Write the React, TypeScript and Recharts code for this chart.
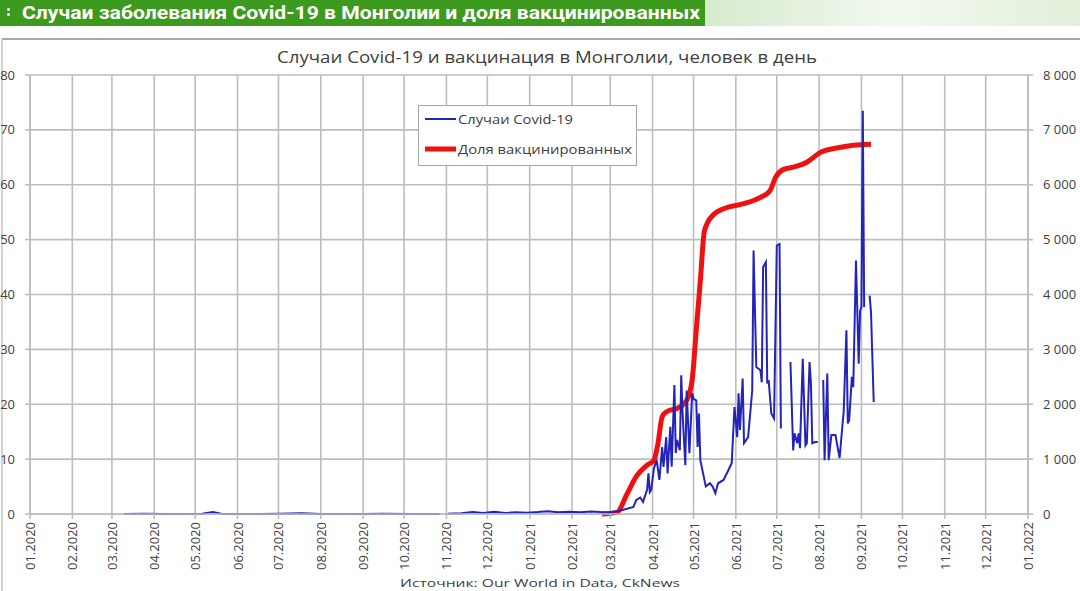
import { LineChart, Line, XAxis, YAxis, CartesianGrid } from "recharts";

// Daily Covid-19 cases in Mongolia (right axis) and vaccinated share, % (left axis)
const caseDates = [
  "2020-03-10", "2020-03-24", "2020-04-08", "2020-04-22", "2020-05-06", "2020-05-14", "2020-05-20",
  "2020-06-04", "2020-06-18", "2020-07-02", "2020-07-18", "2020-08-01", "2020-08-16", "2020-09-01",
  "2020-09-16", "2020-10-06", "2020-10-27", "2020-10-30", "2020-11-02", "2020-11-12", "2020-11-20",
  "2020-11-28", "2020-12-06", "2020-12-14", "2020-12-22", "2020-12-30", "2021-01-07", "2021-01-14",
  "2021-01-22", "2021-01-30", "2021-02-07", "2021-02-15", "2021-02-22", "2021-03-01", "2021-03-08",
  "2021-03-18", "2021-03-20", "2021-03-23", "2021-03-25", "2021-03-28", "2021-03-29", "2021-03-30",
  "2021-03-31", "2021-04-02", "2021-04-04", "2021-04-06", "2021-04-08", "2021-04-09", "2021-04-11",
  "2021-04-12", "2021-04-14", "2021-04-15", "2021-04-17", "2021-04-18", "2021-04-19", "2021-04-21",
  "2021-04-22", "2021-04-23", "2021-04-25", "2021-04-26", "2021-04-28", "2021-04-30", "2021-05-01",
  "2021-05-03", "2021-05-04", "2021-05-05", "2021-05-06", "2021-05-08", "2021-05-10", "2021-05-13",
  "2021-05-15", "2021-05-17", "2021-05-19", "2021-05-23", "2021-05-26", "2021-05-29", "2021-05-31",
  "2021-06-02", "2021-06-03", "2021-06-04", "2021-06-06", "2021-06-07", "2021-06-10", "2021-06-13",
  "2021-06-14", "2021-06-16", "2021-06-19", "2021-06-20", "2021-06-21", "2021-06-23", "2021-06-24",
  "2021-06-25", "2021-06-27", "2021-06-29", "2021-07-01", "2021-07-03", "2021-07-04", "2021-07-08",
  "2021-07-11", "2021-07-13", "2021-07-14", "2021-07-16", "2021-07-17", "2021-07-18", "2021-07-20",
  "2021-07-22", "2021-07-23", "2021-07-25", "2021-07-26", "2021-07-27", "2021-07-29", "2021-07-31",
  "2021-08-02", "2021-08-04", "2021-08-05", "2021-08-07", "2021-08-08", "2021-08-10", "2021-08-13",
  "2021-08-14", "2021-08-16", "2021-08-18", "2021-08-19", "2021-08-21", "2021-08-22", "2021-08-23",
  "2021-08-25", "2021-08-26", "2021-08-28", "2021-08-30", "2021-08-31", "2021-09-01", "2021-09-02",
  "2021-09-03", "2021-09-04", "2021-09-07", "2021-09-08", "2021-09-10",
];
const caseCounts = [
  1, 3, 2, 1, 4, 35, 6,
  2, 1, 3, 12, 1, 2, 1,
  3, 2, 1, null, 5, 15, 35,
  20, 40, 20, 30, 25, 35, 50,
  30, 40, 30, 45, 35, 30, 60,
  130, 250, 300, 220, 440, 740, 400,
  440, 830, 980, 620, 1220, 860, 1400,
  740, 1590, 860, 2350, 1110, 1350, 1160,
  2530, 1830, 890, 2250, 1110, 2200, 2100,
  2070, 1220, 1830, 980, 740, 500, 560,
  500, 380, 560, 620, 770, 930, 1950,
  1400, 2200, 1530, 2470, 1290, 1400, 2250,
  4800, 2680, 2620, 2400, 4500, 4590, 2380,
  2440, 1830, 1740, 4890, 4920, 1560, null,
  2770, 1160, 1470, 1290, 1470, 1200, 2830,
  1250, 1290, 2770, 2380, 1290, 1310, 1310,
  null, 2440, 980, 2560, 980, 1440, 1440,
  1290, 1020, 1590, 1860, 3350, 1650, 1710,
  2500, 2310, 4620, 2740, 3700, 3770, 7350,
  3770, null, 3980, 3680, 2040,
];

const vaccDates = [
  "2021-02-23", "2021-03-06", "2021-03-13", "2021-03-20", "2021-03-28", "2021-04-02", "2021-04-05",
  "2021-04-08", "2021-04-11", "2021-04-21", "2021-04-26", "2021-04-30", "2021-05-03", "2021-05-06",
  "2021-05-09", "2021-05-15", "2021-05-25", "2021-06-06", "2021-06-19", "2021-06-26", "2021-06-30",
  "2021-07-06", "2021-07-13", "2021-07-23", "2021-08-02", "2021-08-14", "2021-08-26", "2021-09-08",
];
const vaccShares = [
  0, 0.3, 3.5, 6.8, 8.9, 9.8, 12.9,
  17.7, 18.6, 19.5, 20.7, 24.4, 33.5, 42.5,
  51.6, 54.4, 55.8, 56.5, 57.7, 58.9, 61.3,
  62.8, 63.2, 64.1, 65.9, 66.7, 67.2, 67.4,
];

const monthLabels = [
  "01.2020", "02.2020", "03.2020", "04.2020", "05.2020", "06.2020", "07.2020", "08.2020", "09.2020",
  "10.2020", "11.2020", "12.2020", "01.2021", "02.2021", "03.2021", "04.2021", "05.2021", "06.2021",
  "07.2021", "08.2021", "09.2021", "10.2021", "11.2021", "12.2021", "01.2022",
];
const shareTicks = [0, 10, 20, 30, 40, 50, 60, 70, 80];
const caseTicks = [0, 1000, 2000, 3000, 4000, 5000, 6000, 7000, 8000];

const ORIGIN = Date.UTC(2020, 0, 1);
const toDay = (s: string) => {
  const [y, m, d] = s.split("-").map(Number);
  return Math.round((Date.UTC(y, m - 1, d) - ORIGIN) / 86400000);
};

const monthTicks = monthLabels.map((l) => {
  const [m, y] = l.split(".");
  return toDay(`${y}-${m}-01`);
});
const labelByDay: Record<number, string> = {};
monthTicks.forEach((d, i) => (labelByDay[d] = monthLabels[i]));

const casesData = caseDates.map((d, i) => ({ day: toDay(d), cases: caseCounts[i] }));
const vaccData = vaccDates.map((d, i) => ({ day: toDay(d), share: vaccShares[i] }));

const FONT = "'Open Sans', sans-serif";
const TXT = "#404040";
const GRID = "#bdbdbd";

const MonthTick = ({ x, y, payload }: any) => (
  <text
    x={x}
    y={y + 1}
    transform={`rotate(-90 ${x} ${y + 1})`}
    textAnchor="end"
    dominantBaseline="central"
    fontFamily={FONT}
    fontSize={13}
    fill={TXT}
  >
    {labelByDay[payload.value]}
  </text>
);

const fmtCases = (v: number) => (v === 0 ? "0" : `${v / 1000} 000`);

export default function App() {
  return (
    <div
      style={{
        position: "fixed",
        left: 0,
        top: 0,
        width: 1080,
        height: 591,
        overflow: "hidden",
        background: "#fff",
      }}
    >
      <svg width={1080} height={591} style={{ position: "absolute", left: 0, top: 0 }}>
        <defs>
          <linearGradient id="fade" x1="0" x2="1" y1="0" y2="0">
            <stop offset="0" stopColor="#d6ebcd" />
            <stop offset="0.5" stopColor="#f2f8ef" />
            <stop offset="1" stopColor="#e2f0db" />
          </linearGradient>
        </defs>
        <rect x={0} y={0} width={705} height={26} fill="#3c9a1e" />
        <rect x={705} y={0} width={375} height={26} fill="url(#fade)" />
        <line x1={2} y1={39} x2={1080} y2={39} stroke="#a8a8a8" strokeWidth={2} />
        <line x1={2} y1={39} x2={2} y2={591} stroke="#c4c4c4" strokeWidth={1.5} />
      </svg>

      <div style={{ position: "absolute", left: 0, top: 0 }}>
        <LineChart
          width={1080}
          height={591}
          margin={{ top: 75, right: 0, bottom: 0, left: 0 }}
        >
          <CartesianGrid yAxisId="left" stroke={GRID} strokeWidth={1.6} />
          <XAxis
            dataKey="day"
            type="number"
            domain={[0, 731]}
            ticks={monthTicks}
            interval={0}
            height={77}
            tickSize={5}
            tickMargin={2}
            tick={<MonthTick />}
            stroke={GRID}
            strokeWidth={1.6}
            allowDataOverflow
          />
          <YAxis
            yAxisId="left"
            domain={[0, 80]}
            ticks={shareTicks}
            width={30}
            tickSize={5}
            tickMargin={10}
            stroke={GRID}
            strokeWidth={1.6}
            tick={{ fill: TXT, fontSize: 13, fontFamily: FONT }}
          />
          <YAxis
            yAxisId="right"
            orientation="right"
            domain={[0, 8000]}
            ticks={caseTicks}
            width={52}
            tickSize={5}
            tickMargin={10}
            stroke={GRID}
            strokeWidth={1.6}
            tickFormatter={fmtCases}
            tick={{ fill: TXT, fontSize: 13, fontFamily: FONT }}
          />
          <Line
            yAxisId="left"
            data={vaccData}
            dataKey="share"
            type="monotone"
            stroke="#ee1111"
            strokeWidth={5}
            dot={false}
            isAnimationActive={false}
          />
          <Line
            yAxisId="right"
            data={casesData}
            dataKey="cases"
            type="linear"
            stroke="#2424b8"
            strokeWidth={2}
            dot={false}
            connectNulls={false}
            isAnimationActive={false}
          />
        </LineChart>
      </div>

      <svg
        width={1080}
        height={591}
        style={{ position: "absolute", left: 0, top: 0, pointerEvents: "none" }}
      >
        <circle cx={8.5} cy={9.5} r={1.4} fill="#fff" />
        <circle cx={8.5} cy={14.5} r={1.4} fill="#fff" />
        <text
          x={22}
          y={19}
          textLength={678}
          lengthAdjust="spacingAndGlyphs"
          fontFamily="Roboto, sans-serif"
          fontWeight={700}
          fontSize={19}
          fill="#fff"
        >
          Случаи заболевания Covid-19 в Монголии и доля вакцинированных
        </text>
        <text
          x={277}
          y={63}
          textLength={540}
          lengthAdjust="spacingAndGlyphs"
          fontFamily={FONT}
          fontSize={17}
          fill={TXT}
        >
          Случаи Covid-19 и вакцинация в Монголии, человек в день
        </text>

        <rect x={418.5} y={105.5} width={218} height={60} fill="#fff" stroke="#a6a6a6" strokeWidth={1} />
        <line x1={425} y1={119} x2={456} y2={119} stroke="#2424b8" strokeWidth={2} />
        <text
          x={458}
          y={124}
          textLength={115}
          lengthAdjust="spacingAndGlyphs"
          fontFamily={FONT}
          fontSize={13.5}
          fill={TXT}
        >
          Случаи Covid-19
        </text>
        <line x1={425} y1={149} x2={456} y2={149} stroke="#ee1111" strokeWidth={5} />
        <text
          x={458}
          y={154}
          textLength={174}
          lengthAdjust="spacingAndGlyphs"
          fontFamily={FONT}
          fontSize={13.5}
          fill={TXT}
        >
          Доля вакцинированных
        </text>

        <text
          x={400}
          y={587}
          textLength={280}
          lengthAdjust="spacingAndGlyphs"
          fontFamily={FONT}
          fontSize={10}
          fill={TXT}
        >
          Источник: Our World in Data, CkNews
        </text>
      </svg>
    </div>
  );
}
